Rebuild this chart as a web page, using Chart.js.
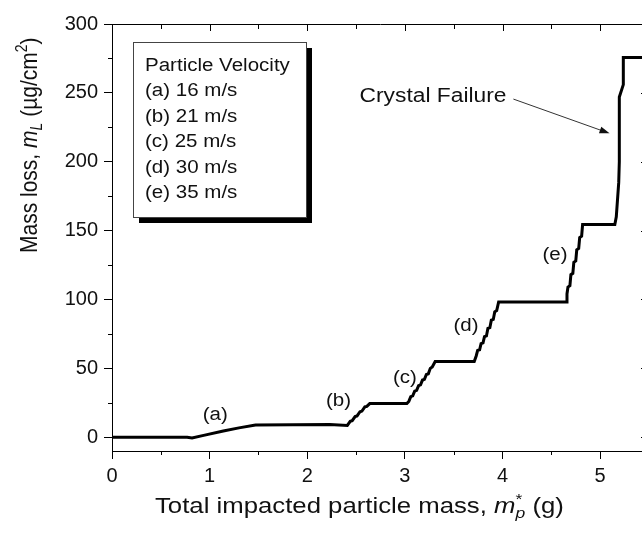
<!DOCTYPE html>
<html>
<head>
<meta charset="utf-8">
<script src="https://cdn.jsdelivr.net/npm/chart.js@4"></script>
<style>
  html, body { margin: 0; padding: 0; overflow: hidden; background: #fff; }
  canvas { display: block; }
</style>
</head>
<body>
<canvas id="massChart" width="660" height="536"></canvas>
<script>
// chart data
const massX = [
  0, 0.77, 0.82, 0.95, 1.14, 1.30, 1.47, 2.23, 2.41,
  2.44, 2.46, 2.49, 2.51, 2.54, 2.56, 2.59, 2.61, 2.64, 2.68,
  3.02,
  3.04, 3.06, 3.08, 3.10, 3.12, 3.14, 3.16, 3.18, 3.20, 3.22, 3.24, 3.26, 3.28, 3.31,
  3.71,
  3.73, 3.745, 3.765, 3.78, 3.80, 3.815, 3.835, 3.85, 3.87, 3.885, 3.905, 3.92, 3.94, 3.96,
  4.65,
  4.66, 4.67, 4.69, 4.70, 4.72, 4.73, 4.75, 4.76, 4.78, 4.79, 4.81, 4.82,
  5.15,
  5.165, 5.19, 5.196, 5.196, 5.237, 5.237, 5.5
];
const massLoss = [
  0, 0, -0.6, 1.5, 4.5, 6.8, 8.8, 9.2, 8.6,
  11.5, 12, 15, 15.5, 18.5, 19, 22, 22.4, 24.4, 24.4,
  24.4,
  26, 29.5, 30, 33.5, 34, 37.5, 38, 41.5, 42, 45.5, 46, 50, 51, 55,
  55,
  59, 63, 63.5, 68, 68.5, 73, 73.5, 79, 79.5, 85, 85.5, 91, 92, 98.2,
  98.2,
  104, 109, 110, 118, 119, 127, 128, 136, 137, 145, 146, 154.4,
  154.4,
  160, 185, 200, 247, 256, 275.7, 275.7
];

const xTicks = [0, 1, 2, 3, 4, 5];
const xMinor = [0.5, 1.5, 2.5, 3.5, 4.5];
const yTicks = [0, 50, 100, 150, 200, 250, 300];
const yMinor = [25, 75, 125, 175, 225, 275];

const legendTitle = "Particle Velocity";
const velocityLabels = ["(a) 16 m/s", "(b) 21 m/s", "(c) 25 m/s", "(d) 30 m/s", "(e) 35 m/s"];
const stageLabels = ["(a)", "(b)", "(c)", "(d)", "(e)"];
const failureLabel = "Crystal Failure";

const FONT = "'Liberation Sans', Arial, sans-serif";
const STRETCH = 1.14; // the original image is a bit wider than tall

// draw text with optional italic / sub / sup pieces
function drawRich(ctx, parts, size) {
  let x = 0;
  let supStart = null;
  parts.forEach((p) => {
    const small = p.sub || p.sup;
    const fs = small ? Math.round(size * 0.66) : size;
    ctx.font = (p.it ? "italic " : "") + fs + "px " + FONT;
    let dy = 0;
    if (p.sup) { dy = -size * 0.42; supStart = x; }
    if (p.sub) {
      dy = size * 0.22;
      if (supStart !== null) x = supStart;
    }
    ctx.fillText(p.t, x, dy);
    x += ctx.measureText(p.t).width;
    if (!p.sup) supStart = null;
  });
}

const decorations = {
  id: "decorations",
  afterDraw(chart) {
    const { ctx, chartArea: a, scales } = chart;
    const xs = scales.x, ys = scales.y;
    ctx.save();
    ctx.strokeStyle = "#000";
    ctx.fillStyle = "#000";
    ctx.lineWidth = 1;

    // top and right frame lines
    ctx.beginPath();
    ctx.moveTo(a.left, a.top + 0.5);
    ctx.lineTo(a.right, a.top + 0.5);
    ctx.moveTo(a.right - 0.5, a.top);
    ctx.lineTo(a.right - 0.5, a.bottom);
    ctx.stroke();

    // ticks: mirrored inward ones on top/right, minor outward ones on bottom/left
    ctx.beginPath();
    const vTick = (v, y0, len) => {
      const px = Math.round(xs.getPixelForValue(v)) + 0.5;
      ctx.moveTo(px, y0); ctx.lineTo(px, y0 + len);
    };
    const hTick = (v, x0, len) => {
      const py = Math.round(ys.getPixelForValue(v)) + 0.5;
      ctx.moveTo(x0, py); ctx.lineTo(x0 + len, py);
    };
    xTicks.forEach((v) => vTick(v, a.top, 7));
    xMinor.forEach((v) => vTick(v, a.top, 5));
    xMinor.forEach((v) => vTick(v, a.bottom, 4));
    yTicks.forEach((v) => hTick(v, a.right, -8));
    yMinor.forEach((v) => hTick(v, a.right, -4));
    yMinor.forEach((v) => hTick(v, a.left, -4));
    ctx.stroke();

    // legend box with drop shadow
    const bx = a.left + 21, by = a.top + 18, bw = 173, bh = 175;
    ctx.fillRect(bx + 6, by + 6, bw, bh);
    ctx.fillStyle = "#fff";
    ctx.fillRect(bx, by, bw, bh);
    ctx.strokeStyle = "#444";
    ctx.strokeRect(bx + 0.5, by + 0.5, bw, bh);
    ctx.fillStyle = "#111";
    ctx.textAlign = "left";
    ctx.textBaseline = "middle";
    ctx.font = "18px " + FONT;
    [legendTitle].concat(velocityLabels).forEach((t, i) => {
      ctx.save();
      ctx.translate(bx + 12, by + 24 + i * 25.5);
      ctx.scale(STRETCH, 1);
      ctx.fillText(t, 0, 0);
      ctx.restore();
    });

    // stage labels next to each rise
    const stagePos = [[1.057, 16.3], [2.32, 26.2], [3.0, 43.2], [3.625, 80.9], [4.538, 132.1]];
    ctx.textAlign = "center";
    stageLabels.forEach((t, i) => {
      ctx.save();
      ctx.translate(xs.getPixelForValue(stagePos[i][0]), ys.getPixelForValue(stagePos[i][1]));
      ctx.scale(STRETCH, 1);
      ctx.fillText(t, 0, 0);
      ctx.restore();
    });

    // crystal failure note with arrow
    ctx.font = "20px " + FONT;
    ctx.save();
    ctx.translate(xs.getPixelForValue(3.288), ys.getPixelForValue(247.2));
    ctx.scale(STRETCH, 1);
    ctx.fillText(failureLabel, 0, 0);
    ctx.restore();

    const x1 = xs.getPixelForValue(4.111), y1 = ys.getPixelForValue(245.5);
    const x2 = xs.getPixelForValue(5.096), y2 = ys.getPixelForValue(220.6);
    const ang = Math.atan2(y2 - y1, x2 - x1);
    ctx.strokeStyle = "#333";
    ctx.beginPath();
    ctx.moveTo(x1, y1);
    ctx.lineTo(x2 - 8 * Math.cos(ang), y2 - 8 * Math.sin(ang));
    ctx.stroke();
    ctx.fillStyle = "#111";
    ctx.beginPath();
    ctx.moveTo(x2, y2);
    ctx.lineTo(x2 - 10 * Math.cos(ang) + 3.5 * Math.sin(ang), y2 - 10 * Math.sin(ang) - 3.5 * Math.cos(ang));
    ctx.lineTo(x2 - 10 * Math.cos(ang) - 3.5 * Math.sin(ang), y2 - 10 * Math.sin(ang) + 3.5 * Math.cos(ang));
    ctx.closePath();
    ctx.fill();

    // axis titles
    ctx.fillStyle = "#111";
    ctx.textAlign = "left";
    ctx.textBaseline = "alphabetic";
    ctx.save();
    ctx.translate(a.left + 43, 513);
    ctx.scale(1.17, 1);
    drawRich(ctx, [
      { t: "Total impacted particle mass, " },
      { t: "m", it: true },
      { t: "*", sup: true },
      { t: "p", sub: true, it: true },
      { t: " (g)" }
    ], 22);
    ctx.restore();

    ctx.save();
    ctx.translate(37, 253);
    ctx.rotate(-Math.PI / 2);
    ctx.scale(1, STRETCH);
    drawRich(ctx, [
      { t: "Mass loss, " },
      { t: "m", it: true },
      { t: "L", sub: true, it: true },
      { t: " (\u00b5g/cm" },
      { t: "2", sup: true },
      { t: ")" }
    ], 21);
    ctx.restore();

    ctx.restore();
  }
};

const tickFont = { family: FONT, size: 20 };

new Chart(document.getElementById("massChart").getContext("2d"), {
  type: "line",
  data: {
    datasets: [{
      data: massX.map((x, i) => ({ x: x, y: massLoss[i] })),
      borderColor: "#000",
      borderWidth: 3,
      pointRadius: 0,
      tension: 0,
      fill: false
    }]
  },
  options: {
    responsive: false,
    animation: false,
    devicePixelRatio: 1,
    layout: { padding: { top: 24, right: 11, left: 0, bottom: 0 } },
    plugins: { legend: { display: false }, tooltip: { enabled: false } },
    scales: {
      x: {
        type: "linear",
        min: 0,
        max: 5.5,
        afterBuildTicks: (s) => { s.ticks = xTicks.map((v) => ({ value: v })); },
        afterFit: (s) => { s.height = 85; },
        ticks: { font: tickFont, color: "#111", padding: 5, maxRotation: 0, autoSkip: false },
        grid: { drawOnChartArea: false, tickLength: 8, tickColor: "#000", tickWidth: 1 },
        border: { color: "#000", width: 1 }
      },
      y: {
        min: -10,
        max: 300,
        afterBuildTicks: (s) => { s.ticks = yTicks.map((v) => ({ value: v })); },
        afterFit: (s) => { s.width = 112; },
        ticks: { font: tickFont, color: "#111", padding: 6, autoSkip: false },
        grid: { drawOnChartArea: false, tickLength: 8, tickColor: "#000", tickWidth: 1 },
        border: { color: "#000", width: 1 }
      }
    }
  },
  plugins: [decorations]
});
</script>
</body>
</html>
